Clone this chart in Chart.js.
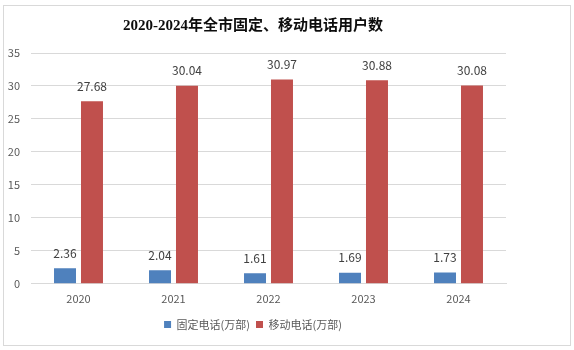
<!DOCTYPE html>
<html lang="zh">
<head>
    <meta charset="UTF-8">
    <title>2020-2024年全市固定、移动电话用户数</title>
    <style>
        body { margin: 0; background: #fff; }
        .frame {
            position: absolute; left: 3px; top: 5px;
            width: 566px; height: 339px;
            border: 1px solid #d9d9d9;
        }
        .wrap { position: absolute; left: 0; top: 0; width: 574px; height: 350px; }
    </style>
    <script src="https://cdn.jsdelivr.net/npm/chart.js"></script>
</head>
<body>
    <div class="frame"></div>
    <div class="wrap"><canvas id="chart" width="574" height="350"></canvas></div>
    <script>
        // data
        const years = ['2020', '2021', '2022', '2023', '2024'];
        const fixedPhones = [2.36, 2.04, 1.61, 1.69, 1.73];
        const mobilePhones = [27.68, 30.04, 30.97, 30.88, 30.08];
        const yTicks = [0, 5, 10, 15, 20, 25, 30, 35];

        const labelFont = '"Noto Sans CJK SC", "Noto Sans", sans-serif';

        // draw value labels above each bar
        const valueLabels = {
            id: 'valueLabels',
            afterDatasetsDraw(chart) {
                const ctx = chart.ctx;
                ctx.save();
                ctx.font = '12px ' + labelFont;
                ctx.fillStyle = '#404040';
                ctx.textAlign = 'center';
                ctx.textBaseline = 'middle';
                chart.data.datasets.forEach((ds, i) => {
                    chart.getDatasetMeta(i).data.forEach((bar, j) => {
                        ctx.fillText(ds.data[j].toFixed(2), bar.x, bar.y - 15);
                    });
                });
                ctx.restore();
            }
        };

        new Chart(document.getElementById('chart'), {
            type: 'bar',
            data: {
                labels: years,
                datasets: [{
                    label: '固定电话(万部)',
                    data: fixedPhones,
                    backgroundColor: '#4f81bd'
                }, {
                    label: '移动电话(万部)',
                    data: mobilePhones,
                    backgroundColor: '#c0504d'
                }]
            },
            options: {
                responsive: false,
                animation: false,
                layout: { padding: { left: 0, right: 68, top: 0, bottom: 10 } },
                categoryPercentage: 0.568,
                barPercentage: 0.815,
                scales: {
                    x: {
                        grid: { display: false, drawTicks: false },
                        border: { color: '#d9d9d9' },
                        ticks: { color: '#595959', font: { size: 11, family: labelFont }, padding: 8 }
                    },
                    y: {
                        min: 0,
                        max: 35,
                        afterBuildTicks(scale) { scale.ticks = yTicks.map(v => ({ value: v })); },
                        afterFit(scale) { scale.width = 31; },
                        grid: { color: '#d9d9d9', drawTicks: false },
                        border: { display: false },
                        ticks: { color: '#595959', font: { size: 11, family: labelFont }, padding: 11 }
                    }
                },
                plugins: {
                    title: {
                        display: true,
                        text: '2020-2024年全市固定、移动电话用户数',
                        color: '#0d0d0d',
                        font: { size: 15, weight: 'bold', family: '"Liberation Serif", "Noto Sans CJK SC", serif' },
                        padding: { top: 17, bottom: 18 }
                    },
                    legend: {
                        position: 'bottom',
                        labels: {
                            color: '#595959',
                            font: { size: 11, family: labelFont },
                            boxWidth: 7,
                            boxHeight: 7,
                            padding: 6
                        }
                    },
                    tooltip: { enabled: false }
                }
            },
            plugins: [valueLabels]
        });
    </script>
</body>
</html>
